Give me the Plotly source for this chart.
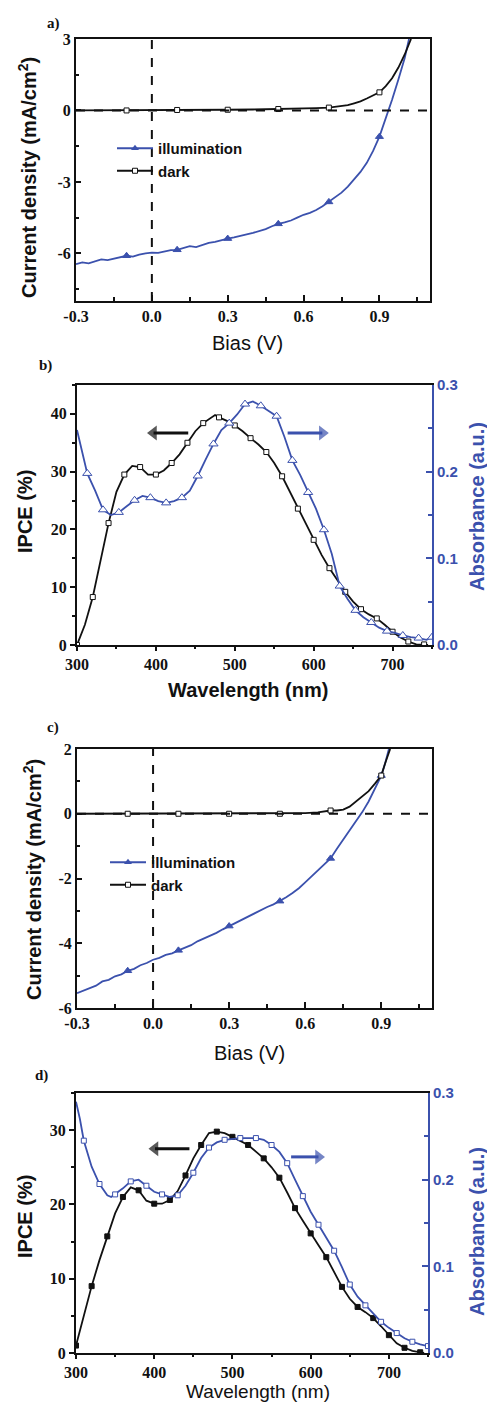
import plotly.graph_objects as go

# ---------------- data ----------------
# Panel a: J-V curves
a_illum_V = [-0.3, -0.275, -0.25, -0.225, -0.2, -0.175, -0.15, -0.125, -0.1, -0.075,
             -0.05, -0.025, 0.0, 0.025, 0.05, 0.075, 0.1, 0.125, 0.15, 0.175,
             0.2, 0.225, 0.25, 0.275, 0.3, 0.325, 0.35, 0.375, 0.4, 0.425,
             0.45, 0.475, 0.5, 0.525, 0.55, 0.575, 0.6, 0.625, 0.65, 0.675,
             0.7, 0.725, 0.75, 0.775, 0.8, 0.825, 0.85, 0.875, 0.9, 0.925,
             0.95, 0.975, 1.0, 1.017]
a_illum_J = [-6.45, -6.38, -6.42, -6.35, -6.25, -6.28, -6.22, -6.18, -6.10, -6.14,
             -6.05, -6.00, -5.97, -5.98, -5.92, -5.86, -5.85, -5.78, -5.70, -5.74,
             -5.64, -5.56, -5.52, -5.44, -5.38, -5.33, -5.28, -5.20, -5.14, -5.06,
             -4.98, -4.86, -4.76, -4.70, -4.62, -4.50, -4.38, -4.30, -4.18, -4.02,
             -3.84, -3.65, -3.45, -3.20, -2.90, -2.58, -2.20, -1.70, -1.10, -0.35,
             0.45, 1.30, 2.20, 3.00]
a_dark_V = [-0.3, -0.2, -0.1, 0.0, 0.1, 0.2, 0.3, 0.4, 0.5, 0.55, 0.6, 0.65, 0.7, 0.75,
            0.775, 0.8, 0.825, 0.85, 0.875, 0.9, 0.925, 0.95, 0.975, 1.0, 1.025]
a_dark_J = [0.0, 0.0, 0.0, 0.0, 0.02, 0.02, 0.03, 0.04, 0.06, 0.05, 0.08, 0.10, 0.12, 0.17,
            0.22, 0.30, 0.38, 0.50, 0.62, 0.76, 1.02, 1.35, 1.80, 2.35, 3.0]

# Panel c: J-V curves
c_illum_V = [-0.3, -0.275, -0.25, -0.225, -0.2, -0.175, -0.15, -0.125, -0.1, -0.075,
             -0.05, -0.025, 0.0, 0.025, 0.05, 0.075, 0.1, 0.125, 0.15, 0.175,
             0.2, 0.225, 0.25, 0.275, 0.3, 0.325, 0.35, 0.375, 0.4, 0.425,
             0.45, 0.475, 0.5, 0.525, 0.55, 0.575, 0.6, 0.625, 0.65, 0.675,
             0.7, 0.725, 0.75, 0.775, 0.8, 0.825, 0.85, 0.875, 0.9, 0.915, 0.93]
c_illum_J = [-5.54, -5.46, -5.38, -5.31, -5.18, -5.13, -5.02, -4.96, -4.85, -4.79,
             -4.68, -4.61, -4.51, -4.45, -4.36, -4.31, -4.22, -4.14, -4.06, -3.94,
             -3.86, -3.77, -3.68, -3.57, -3.47, -3.39, -3.28, -3.19, -3.08, -2.99,
             -2.88, -2.80, -2.70, -2.58, -2.45, -2.30, -2.12, -1.93, -1.75, -1.57,
             -1.38, -1.08, -0.80, -0.52, -0.24, 0.05, 0.38, 0.76, 1.18, 1.55, 2.0]
c_dark_V = [-0.3, -0.25, -0.2, -0.15, -0.1, -0.05, 0.0, 0.05, 0.1, 0.15, 0.2, 0.3, 0.4, 0.5,
            0.55, 0.6, 0.65, 0.7, 0.725, 0.75, 0.775, 0.8, 0.825, 0.85, 0.875, 0.9, 0.915, 0.935]
c_dark_J = [0.0, 0.0, 0.01, 0.02, 0.0, 0.01, 0.0, 0.01, 0.0, 0.01, 0.0, 0.0, 0.0, 0.0,
            0.01, 0.02, 0.04, 0.10, 0.10, 0.13, 0.22, 0.38, 0.52, 0.70, 0.93, 1.18, 1.55, 2.0]
jv_marker_V = [-0.1, 0.1, 0.3, 0.5, 0.7, 0.9]

# tick labels of the J-V panels
bias_ticks = [-0.3, 0.0, 0.3, 0.6, 0.9]
bias_ticktext = ["-0.3", "0.0", "0.3", "0.6", "0.9"]
a_j_ticks = [-6, -3, 0, 3]
a_j_ticktext = ["-6", "-3", "0", "3"]
c_j_ticks = [-6, -4, -2, 0, 2]
c_j_ticktext = ["-6", "-4", "-2", "0", "2"]

# Panel b: IPCE and absorbance
b_ipce_wl = [300, 310, 320, 330, 340, 350, 360, 370, 380, 390, 400, 410, 420, 430, 440,
             450, 460, 470, 475, 480, 490, 500, 510, 520, 530, 540, 550, 560, 570, 580,
             590, 600, 610, 620, 630, 640, 650, 660, 670, 680, 690, 700, 710, 720, 730,
             740, 745]
b_ipce = [0.0, 3.5, 8.3, 14.5, 21.1, 26.5, 29.5, 31.0, 30.8, 29.5, 29.5, 30.2, 31.5, 33.0, 35.0,
          37.0, 38.4, 39.4, 39.8, 39.4, 38.8, 38.0, 37.0, 35.8, 34.7, 33.4, 31.5, 29.2, 26.5, 23.6,
          21.0, 18.2, 15.6, 13.3, 11.2, 9.2, 7.5, 6.2, 5.3, 4.6, 3.5, 2.3, 1.3, 0.6, 0.1,
          0.1, 0.0]
b_abs_wl = [300, 305, 313, 323, 333, 343, 353, 363, 373, 383, 393, 403, 413, 423, 433,
            443, 453, 463, 473, 483, 493, 503, 513, 523, 533, 543, 553, 563, 573, 583,
            593, 603, 613, 623, 633, 643, 653, 663, 673, 683, 693, 703, 713, 723, 733,
            743, 750]
b_abs = [0.248, 0.228, 0.198, 0.178, 0.156, 0.150, 0.153, 0.160, 0.167, 0.172, 0.170, 0.166,
         0.164, 0.166, 0.170, 0.178, 0.195, 0.214, 0.232, 0.248, 0.256, 0.266, 0.278, 0.281,
         0.276, 0.270, 0.264, 0.240, 0.213, 0.196, 0.176, 0.157, 0.133, 0.105, 0.068, 0.053,
         0.040, 0.032, 0.026, 0.020, 0.016, 0.014, 0.011, 0.009, 0.008, 0.006, 0.009]
b_ipce_marker_wl = [300, 320, 340, 360, 380, 400, 420, 440, 460, 480, 500, 520, 540, 560, 580,
                    600, 620, 640, 660, 680, 700, 720, 740]
b_abs_marker_wl = [313, 333, 353, 373, 393, 413, 433, 453, 473, 493, 513, 533, 553, 573, 593,
                   613, 633, 653, 673, 693, 713, 733, 750]

# Panel d: IPCE and absorbance
d_ipce_wl = [300, 310, 320, 330, 340, 350, 360, 370, 380, 390, 400, 410, 420, 430, 440,
             450, 460, 470, 480, 490, 500, 510, 520, 530, 540, 550, 560, 570, 580, 590,
             600, 610, 620, 630, 640, 650, 660, 670, 680, 690, 700, 710, 720, 730, 740, 745]
d_ipce = [1.0, 5.0, 9.0, 12.5, 15.7, 18.8, 21.0, 22.3, 21.9, 20.5, 20.1, 20.1, 20.6, 21.8, 23.9,
          26.2, 28.0, 29.6, 29.8, 29.6, 29.1, 28.6, 28.0, 27.1, 26.2, 25.0, 23.6, 21.6, 19.5, 17.8,
          16.1, 14.5, 12.9, 11.0, 8.9, 7.3, 6.2, 5.5, 4.7, 3.6, 2.4, 1.3, 0.7, 0.3, 0.1, 0.0]
d_abs_wl = [300, 305, 310, 320, 330, 340, 345, 350, 360, 370, 380, 390, 400, 410, 420, 430,
            440, 450, 460, 470, 480, 490, 500, 510, 520, 530, 540, 550, 560, 570, 580, 590,
            600, 610, 620, 630, 640, 650, 660, 670, 680, 690, 700, 710, 720, 730, 740, 750]
d_abs = [0.290, 0.270, 0.245, 0.215, 0.195, 0.182, 0.180, 0.183, 0.190, 0.198, 0.200, 0.193,
         0.186, 0.183, 0.180, 0.182, 0.193, 0.208, 0.225, 0.237, 0.243, 0.246, 0.247, 0.248,
         0.248, 0.248, 0.246, 0.240, 0.232, 0.219, 0.200, 0.181, 0.163, 0.148, 0.133, 0.118,
         0.099, 0.079, 0.065, 0.055, 0.045, 0.036, 0.029, 0.023, 0.017, 0.013, 0.010, 0.008]
d_ipce_marker_wl = [300, 320, 340, 360, 380, 400, 420, 440, 460, 480, 500, 520, 540, 560, 580,
                    600, 620, 640, 660, 680, 700, 720, 740]
d_abs_marker_wl = [310, 330, 350, 370, 390, 410, 430, 450, 470, 490, 510, 530, 550, 570, 590,
                   610, 630, 650, 670, 690, 710, 730, 750]

legend_labels = ["illumination", "dark"]

# ---------------- style ----------------
W, H = 487, 1403
BLUE = "#3b51ad"
BLACK = "#111111"
SERIF = "Liberation Serif"
SANS = "Liberation Sans"
LW = 1.8


def pick(xs, ys, keep):
    keep_r = [round(k, 4) for k in keep]
    sel = [(x, y) for x, y in zip(xs, ys) if round(x, 4) in keep_r]
    return [s[0] for s in sel], [s[1] for s in sel]


def py(p):
    return 1 - p / H


def pxx(p):
    return p / W


fig = go.Figure()


def add_series(xs, ys, keep, color, symbol, fill, size, xa, ya, lw=LW):
    fig.add_trace(go.Scatter(x=xs, y=ys, mode="lines", xaxis=xa, yaxis=ya,
                             line=dict(color=color, width=lw), showlegend=False,
                             hoverinfo="skip"))
    mx, my = pick(xs, ys, keep)
    fig.add_trace(go.Scatter(x=mx, y=my, mode="markers", xaxis=xa, yaxis=ya,
                             marker=dict(symbol=symbol, size=size, color=fill,
                                         line=dict(color=color, width=1)),
                             showlegend=False, hoverinfo="skip"))


# Panel a
add_series(a_illum_V, a_illum_J, jv_marker_V, BLUE, "triangle-up", BLUE, 7, "x", "y")
add_series(a_dark_V, a_dark_J, jv_marker_V, BLACK, "square", "white", 5, "x", "y")
# Panel b
add_series(b_abs_wl, b_abs, b_abs_marker_wl, BLUE, "triangle-up", "white", 8, "x2", "y3")
add_series(b_ipce_wl, b_ipce, b_ipce_marker_wl, BLACK, "square", "white", 5, "x2", "y2")
# Panel c
add_series(c_illum_V, c_illum_J, jv_marker_V, BLUE, "triangle-up", BLUE, 7, "x3", "y4")
add_series(c_dark_V, c_dark_J, jv_marker_V, BLACK, "square", "white", 5, "x3", "y4")
# Panel d
add_series(d_abs_wl, d_abs, d_abs_marker_wl, BLUE, "square", "white", 5, "x4", "y6")
add_series(d_ipce_wl, d_ipce, d_ipce_marker_wl, BLACK, "square", BLACK, 5, "x4", "y5")

# direction arrows (panels b and d): shaft + triangular head
arrows = [("x2", "y2", 397, 441, 36.7, BLACK, "triangle-left"),
          ("x2", "y2", 611, 567, 36.7, BLUE, "triangle-right"),
          ("x4", "y5", 401, 445, 27.5, BLACK, "triangle-left"),
          ("x4", "y5", 610, 575, 26.4, BLUE, "triangle-right")]
for xa, ya, head, tail, yv, col, sym in arrows:
    fig.add_trace(go.Scatter(x=[tail, head], y=[yv, yv], mode="lines+markers",
                             xaxis=xa, yaxis=ya, showlegend=False, hoverinfo="skip",
                             line=dict(color=col, width=3),
                             marker=dict(symbol=sym, size=[0, 13], color=col,
                                         line=dict(width=0))))

# legend entries (panels a and c)
for lg, xa, ya in [("legend", "x", "y"), ("legend2", "x3", "y4")]:
    fig.add_trace(go.Scatter(x=[None], y=[None], mode="lines+markers", xaxis=xa, yaxis=ya,
                             name=legend_labels[0], legend=lg,
                             line=dict(color=BLUE, width=LW),
                             marker=dict(symbol="triangle-up", size=7, color=BLUE)))
    fig.add_trace(go.Scatter(x=[None], y=[None], mode="lines+markers", xaxis=xa, yaxis=ya,
                             name=legend_labels[1], legend=lg,
                             line=dict(color=BLACK, width=LW),
                             marker=dict(symbol="square", size=5, color="white",
                                         line=dict(color=BLACK, width=1))))

tickfont = dict(family=SERIF, size=16, color=BLACK, weight="bold")
rtickfont = dict(family=SANS, size=15, color=BLUE, weight="bold")


def xax(domain, anchor, rng, dtick, tick0, minor, ticks, fmt, tv=None, tt=None, tl=6):
    d = dict(domain=domain, anchor=anchor, range=rng, dtick=dtick, tick0=tick0,
             tickformat=fmt, showline=True, linecolor=BLACK, linewidth=2, mirror=True,
             ticks=ticks, ticklen=tl, tickwidth=2, tickcolor=BLACK, automargin=False,
             minor=dict(dtick=minor, tick0=tick0, ticks=ticks, ticklen=tl - 2, tickwidth=2,
                        tickcolor=BLACK),
             showgrid=False, zeroline=False, tickfont=tickfont)
    if tv is not None:
        d.update(tickmode="array", tickvals=tv, ticktext=tt)
    return d


def yax(domain, anchor, rng, dtick, tick0, minor, ticks, mirror=True, tv=None, tt=None):
    d = dict(domain=domain, anchor=anchor, range=rng, dtick=dtick, tick0=tick0,
             showline=True, linecolor=BLACK, linewidth=2, mirror=mirror,
             ticks=ticks, ticklen=5, tickwidth=2, tickcolor=BLACK, automargin=False,
             minor=dict(dtick=minor, tick0=tick0, ticks=ticks, ticklen=3, tickwidth=2,
                        tickcolor=BLACK),
             showgrid=False, zeroline=False, tickfont=tickfont)
    if tv is not None:
        d.update(tickmode="array", tickvals=tv, ticktext=tt)
    return d


def rax(overlay, anchor):
    return dict(overlaying=overlay, anchor=anchor, side="right", range=[0, 0.3], dtick=0.1,
                tick0=0, tickformat=".1f", showline=True, linecolor=BLUE, linewidth=2,
                ticks="inside", ticklen=6, tickwidth=2, tickcolor=BLUE, automargin=False,
                minor=dict(dtick=0.05, ticks="inside", ticklen=4, tickwidth=2, tickcolor=BLUE),
                showgrid=False, zeroline=False, tickfont=rtickfont)


fig.update_layout(
    template="none",
    width=W, height=H, margin=dict(l=0, r=0, t=0, b=0, autoexpand=False),
    paper_bgcolor="white", plot_bgcolor="white",
    xaxis=xax([pxx(76), pxx(430)], "y", [-0.3, 1.1], 0.3, -0.3, 0.15, "inside", None,
              bias_ticks, bias_ticktext),
    yaxis=yax([py(301), py(39)], "x", [-8, 3], 3, 0, 1.5, "inside",
              tv=a_j_ticks, tt=a_j_ticktext),
    xaxis2=xax([pxx(77), pxx(432)], "y2", [300, 750], 100, 300, 50, "outside", "d", tl=4),
    yaxis2=yax([py(645), py(385)], "x2", [0, 45], 10, 0, 5, "outside", mirror=False),
    yaxis3=rax("y2", "x2"),
    xaxis3=xax([pxx(77), pxx(432)], "y4", [-0.3, 1.1], 0.3, -0.3, 0.15, "inside", None,
               bias_ticks, bias_ticktext),
    yaxis4=yax([py(1008), py(749)], "x3", [-6, 2], 2, 0, 1, "inside",
               tv=c_j_ticks, tt=c_j_ticktext),
    xaxis4=xax([pxx(76), pxx(428)], "y5", [300, 750], 100, 300, 50, "outside", "d", tl=4),
    yaxis5=yax([py(1353), py(1093)], "x4", [0, 35], 10, 0, 5, "outside", mirror=False),
    yaxis6=rax("y5", "x4"),
    legend=dict(x=pxx(112), y=py(132), xanchor="left", yanchor="top", itemwidth=36,
                bgcolor="rgba(0,0,0,0)", tracegroupgap=0,
                font=dict(family=SANS, size=15, color=BLACK, weight="bold")),
    legend2=dict(x=pxx(105), y=py(846), xanchor="left", yanchor="top", itemwidth=36,
                 bgcolor="rgba(0,0,0,0)", tracegroupgap=0,
                 font=dict(family=SANS, size=15, color=BLACK, weight="bold")),
    showlegend=True,
)

# dashed zero lines (panels a and c)
for xa, ya in [("x", "y"), ("x3", "y4")]:
    fig.add_shape(type="line", xref=xa, yref=ya + " domain", x0=0, x1=0, y0=0, y1=1,
                  line=dict(color=BLACK, width=2, dash="dash"))
    fig.add_shape(type="line", xref=xa + " domain", yref=ya, x0=0, x1=1, y0=0, y1=0,
                  line=dict(color=BLACK, width=2, dash="dash"))

# texts: axis titles and panel labels
title_font = dict(family=SANS, size=20, color=BLACK, weight="bold")
texts = [
    ("a)", 53, 23, 0, dict(family=SERIF, size=15, color=BLACK, weight="bold"), "middle"),
    ("b)", 45, 365, 0, dict(family=SERIF, size=15, color=BLACK, weight="bold"), "middle"),
    ("c)", 53, 727, 0, dict(family=SERIF, size=15, color=BLACK, weight="bold"), "middle"),
    ("d)", 41, 1075, 0, dict(family=SERIF, size=15, color=BLACK, weight="bold"), "middle"),
    ("Current density (mA/cm<sup>2</sup>)", 28, 178, -90, title_font, "middle"),
    ("Bias (V)", 247, 343, 0, dict(family=SANS, size=20, color=BLACK), "middle"),
    ("IPCE (%)", 25, 512, -90, title_font, "middle"),
    ("Absorbance (a.u.)", 477, 507, -90,
     dict(family=SANS, size=20, color=BLUE, weight="bold"), "middle"),
    ("Wavelength (nm)", 248, 690, 0, dict(family=SANS, size=20, color=BLACK, weight="bold"),
     "middle"),
    ("Current density (mA/cm<sup>2</sup>)", 32, 880, -90, title_font, "middle"),
    ("Bias (V)", 250, 1053, 0, dict(family=SANS, size=20, color=BLACK), "middle"),
    ("IPCE (%)", 25, 1217, -90, title_font, "middle"),
    ("Absorbance (a.u.)", 477, 1232, -90,
     dict(family=SANS, size=20, color=BLUE, weight="bold"), "middle"),
    ("Wavelength (nm)", 258, 1403, 0, dict(family=SANS, size=19, color=BLACK), "bottom"),
]
for t, x, yy, ang, f, ya in texts:
    fig.add_annotation(text=t, x=pxx(x), y=py(yy), xref="paper", yref="paper",
                       showarrow=False, textangle=ang, font=f, borderpad=0,
                       xanchor="center", yanchor=ya)

fig.write_html("out.html", config={"displayModeBar": False},
               post_script="document.body.style.margin='0';document.body.style.overflow='hidden';")
